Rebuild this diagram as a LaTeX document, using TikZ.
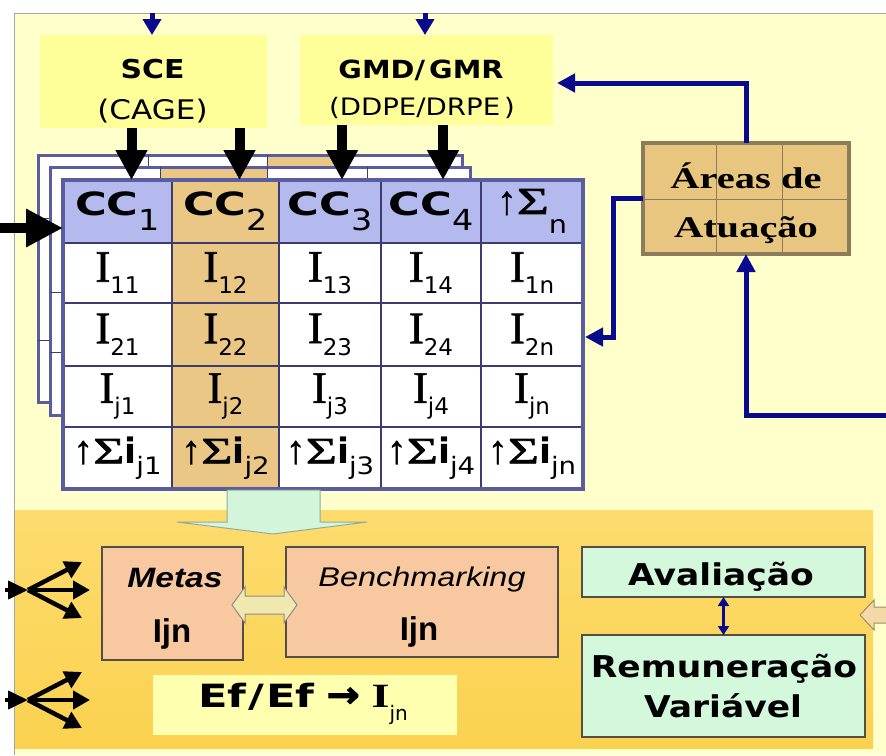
\documentclass[tikz,border=0pt]{standalone}
\usepackage{fontspec}
\setmainfont{DejaVu Sans}
\newfontfamily\sw[FakeStretch=1.15]{DejaVu Sans}
\newfontfamily\sww[FakeStretch=1.35]{DejaVu Sans}
\newfontfamily\arrf[FakeStretch=1.1,FakeBold=2.5]{DejaVu Sans}
\newfontfamily\tmn[FakeBold=1.2]{Liberation Serif}
\newfontfamily\tmw[FakeStretch=1.35]{Liberation Serif}
\newfontfamily\sig[FakeStretch=1.45,FakeBold=2]{Liberation Serif}
\newfontfamily\upa[FakeBold=1]{Liberation Serif}
\newfontfamily\ar{Liberation Sans}
\newfontfamily\arw[FakeStretch=1.2]{Liberation Sans}
\usetikzlibrary{arrows.meta}
\newcommand\fs[1]{\fontsize{#1}{#1}\selectfont}
\definecolor{bgpale}{RGB}{255,255,204}
\definecolor{bright}{RGB}{255,255,153}
\definecolor{hdr}{RGB}{180,185,238}
\definecolor{tanc}{RGB}{234,199,132}
\definecolor{tborder}{RGB}{90,92,160}
\definecolor{tline}{RGB}{60,60,110}
\definecolor{navy}{RGB}{10,10,140}
\definecolor{goldA}{RGB}{253,220,110}
\definecolor{goldB}{RGB}{251,210,80}
\definecolor{salmon}{RGB}{248,200,160}
\definecolor{mint}{RGB}{212,248,220}
\definecolor{efy}{RGB}{255,255,176}
\definecolor{areaf}{RGB}{232,198,128}
\definecolor{areab}{RGB}{140,124,92}
\definecolor{boxb}{RGB}{85,78,70}
\definecolor{garrow}{RGB}{211,245,218}
\definecolor{garrowb}{RGB}{150,170,155}
\definecolor{dblf}{RGB}{240,232,175}
\definecolor{rarf}{RGB}{243,217,166}
\definecolor{rarb}{RGB}{160,140,105}
\newcommand\tcell[7]{\node[tcellst, fill=#6, minimum width={(#4)-(#2)}, minimum height={(#5)-(#3)}] (#1) at ({((#2)+(#4))/2},{((#3)+(#5))/2}) {#7};}
\newcommand\CCx[1]{{\sww\bfseries\fs{32}CC}\raisebox{-15pt}{\sw\fs{29}#1}}
\newcommand\IIx[1]{{\tmn\fs{45}I}\raisebox{-12pt}{\fs{23}#1}}
\newcommand\SIn{{\upa\fs{40}↑}{\sig\fs{38}Σ}\raisebox{-20pt}{\sw\fs{25}n}}
\newcommand\SIx[1]{{\upa\fs{40}↑}{\sig\fs{37}Σ}{\bfseries\fs{35}i}\raisebox{-11pt}{\sw\fs{24}#1}}
\begin{document}
\begin{tikzpicture}[x=1pt,y=-1pt,
  tcellst/.style={draw=tline, line width=1.2pt, inner sep=0pt, outer sep=0pt, text=black},
  ybox/.style={fill=bright, inner sep=0pt, outer sep=0pt},
  salbox/.style={fill=salmon, draw=boxb, line width=1.5pt, inner sep=0pt, outer sep=0pt},
  mintbox/.style={fill=mint, draw=boxb, line width=1.5pt, inner sep=0pt, outer sep=0pt},
  txt/.style={anchor=base, inner sep=0pt},
  blk/.style={draw=black, line width=10pt, -{Triangle[length=30pt,width=30pt]}},
  blu/.style={draw=navy, line width=5pt, -{Triangle[length=18pt,width=18pt]}},
  fan/.style={draw=black, line width=4.5pt, -{Triangle[length=17pt,width=18pt]}},
  fanin/.style={draw=black, line width=4pt, -{Triangle[length=20pt,width=18pt]}},
]
\useasboundingbox (0,0) rectangle (886,755);
\fill[white] (0,0) rectangle (886,755);
\fill[bgpale] (14,13) rectangle (886,755);
\draw[black!35, line width=1pt] (14,755) -- (14,13) -- (886,13);

% top source boxes
\node[ybox, minimum width=227, minimum height=93] (sce) at (153.5,81.5) {};
\node[ybox, minimum width=253, minimum height=90] (gmd) at (426.5,80) {};
\node[txt] (sceT) at (152.5,78) {\sw\bfseries\fs{26}SCE};
\node[txt] (cage) at (152.5,119) {\sw\fs{27}(CAGE)};
\node[txt] (gmdT) at (421,78) {\sw\bfseries\fs{25}GMD/\,GMR};
\node[txt] (ddpe) at (422,115) {\sw\fs{24}(DDPE/DRPE\,)};

% gold region
\shade[top color=goldA, bottom color=goldB] (15,510) rectangle (873,748);

% back layers of the table
\filldraw[fill=white, draw=tborder, line width=3pt] (38,155) rectangle (462,402);
\fill[tanc] (267,156.5) rectangle (338,180);
\draw[tline, line width=1pt] (148,155) -- (148,180) (267,155) -- (267,180) (338,155) -- (338,180)
  (38,218) -- (50,218) (38,340) -- (50,340);
\filldraw[fill=white, draw=tborder, line width=3pt] (50,167) rectangle (470,415);
\fill[tanc] (160,168.5) rectangle (267,180);
\draw[tline, line width=1pt] (160,167) -- (160,180) (267,167) -- (267,180) (367,167) -- (367,180)
  (50,292) -- (63,292) (50,352) -- (63,352);

% main table
\tcell{h1}{63}{180}{172}{243}{hdr}{\CCx{1}}
\tcell{h2}{172}{180}{279}{243}{tanc}{\CCx{2}}
\tcell{h3}{279}{180}{381}{243}{hdr}{\CCx{3}}
\tcell{h4}{381}{180}{481}{243}{hdr}{\CCx{4}}
\tcell{h5}{481}{180}{583}{243}{hdr}{\SIn}
\tcell{a1}{63}{243}{172}{303}{white}{\IIx{11}}
\tcell{a2}{172}{243}{279}{303}{tanc}{\IIx{12}}
\tcell{a3}{279}{243}{381}{303}{white}{\IIx{13}}
\tcell{a4}{381}{243}{481}{303}{white}{\IIx{14}}
\tcell{a5}{481}{243}{583}{303}{white}{\IIx{1n}}
\tcell{b1}{63}{303}{172}{366}{white}{\IIx{21}}
\tcell{b2}{172}{303}{279}{366}{tanc}{\IIx{22}}
\tcell{b3}{279}{303}{381}{366}{white}{\IIx{23}}
\tcell{b4}{381}{303}{481}{366}{white}{\IIx{24}}
\tcell{b5}{481}{303}{583}{366}{white}{\IIx{2n}}
\tcell{c1}{63}{366}{172}{427}{white}{\IIx{j1}}
\tcell{c2}{172}{366}{279}{427}{tanc}{\IIx{j2}}
\tcell{c3}{279}{366}{381}{427}{white}{\IIx{j3}}
\tcell{c4}{381}{366}{481}{427}{white}{\IIx{j4}}
\tcell{c5}{481}{366}{583}{427}{white}{\IIx{jn}}
\tcell{s1}{63}{427}{172}{489}{white}{\SIx{j1}}
\tcell{s2}{172}{427}{279}{489}{tanc}{\SIx{j2}}
\tcell{s3}{279}{427}{381}{489}{white}{\SIx{j3}}
\tcell{s4}{381}{427}{481}{489}{white}{\SIx{j4}}
\tcell{s5}{481}{427}{583}{489}{white}{\SIx{jn}}
\draw[tborder, line width=3.5pt] (h1.north west) rectangle (s5.south east);

% green block arrow
\filldraw[fill=garrow, draw=garrowb, line width=1pt] (227,490) -- (320,490) -- (320,522) -- (367,522) -- (273,534) -- (177,522) -- (227,522) -- cycle;

% bottom boxes
\node[salbox, minimum width=141, minimum height=113] (metas) at (172.5,603.5) {};
\node[salbox, minimum width=272, minimum height=110] (bench) at (422,602) {};
\node[fill=efy, inner sep=0pt, minimum width=304, minimum height=60] (ef) at (305,705) {};
\node[mintbox, minimum width=283, minimum height=50] (aval) at (723.5,572) {};
\node[mintbox, minimum width=283, minimum height=102] (rem) at (723.5,686) {};

\node[txt] (metasT) at (175,587) {\arw\bfseries\itshape\fs{28}Metas};
\node[txt] (ijn1) at (172,642) {\ar\bfseries\fs{33}Ijn};
\node[txt] (benchT) at (422,586) {\arw\itshape\fs{27}Benchmarking};
\node[txt] (ijn2) at (419,640) {\ar\bfseries\fs{33}Ijn};
\node[txt] (efT) at (303,707) {{\sww\bfseries\fs{32}Ef\kern2pt/\kern2pt Ef}\hspace{12pt}{\arrf\bfseries\fs{36}→}\hspace{12pt}{\tmw\bfseries\fs{34}I}\raisebox{-13pt}{\fs{20}jn}};
\node[txt] (avT) at (721,585) {\sw\bfseries\fs{30}Avaliação};
\node[txt] (remT) at (724,677) {\sw\bfseries\fs{30}Remuneração};
\node[txt] (varT) at (723,717) {\sw\bfseries\fs{30}Variável};

% double arrow Metas <-> Benchmarking
\filldraw[fill=dblf, draw=black!45, line width=1pt] (232,605) -- (245,587) -- (245,596) -- (284,596) -- (284,587) -- (297,605) -- (284,623) -- (284,614) -- (245,614) -- (245,623) -- cycle;
% right hollow arrow
\filldraw[fill=rarf, draw=rarb, line width=1pt] (860,615) -- (874,600) -- (874,607) -- (890,607) -- (890,623) -- (874,623) -- (874,630) -- cycle;
% Avaliacao <-> Remuneracao
\draw[draw=navy, line width=3.5pt, {Triangle[length=9pt,width=11pt]}-{Triangle[length=9pt,width=11pt]}] (aval.south) -- (rem.north);

% Areas de Atuacao
\node[fill=areaf, draw=areab, line width=3.5pt, inner sep=0pt, outer sep=0pt, minimum width=206, minimum height=111] (areas) at (746,198.5) {};
\draw[areab, line width=1pt] (716,143) -- (716,254) (782,143) -- (782,254) (643,199) -- (849,199);
\node[txt] (ar1) at (746,188) {\tmw\bfseries\fs{30}Áreas de};
\node[txt] (ar2) at (746,237) {\tmw\bfseries\fs{30}Atuação};

% blue connectors
\draw[blu] (areas.north) |- ([yshift=-3pt,xshift=4pt]gmd.east);
\draw[blu] (areas.west) -- ++(-30,0) |- ([xshift=2pt,yshift=-2.5pt]b5.east);
\coordinate (rin) at (890,415);
\draw[blu] (rin) -| (areas.south);
\coordinate (tb1) at (152,13);
\coordinate (tb2) at (425,13);
\draw[draw=navy, line width=5pt, -{Triangle[length=16pt,width=18pt]}] (tb1) -- (sce.north -| tb1);
\draw[draw=navy, line width=5pt, -{Triangle[length=16pt,width=18pt]}] (tb2) -- (gmd.north -| tb2);

% black arrows into the table
\coordinate (t1) at ([xshift=14pt]h1.north);
\coordinate (t2) at ([xshift=14pt]h2.north);
\coordinate (t3) at ([xshift=12pt]h3.north);
\coordinate (t4) at ([xshift=12pt]h4.north);
\draw[blk] (t1 |- sce.south) -- (t1);
\draw[blk] (t2 |- sce.south) -- (t2);
\draw[blk] (t3 |- gmd.south) -- (t3);
\draw[blk] (t4 |- gmd.south) -- (t4);
\coordinate (lin) at (0,228);
\draw[draw=black, line width=10pt, -{Triangle[length=37pt,width=36pt]}] (lin) -- (h1.west |- lin);

% fan arrows on the left
\coordinate (f1in) at (5,590);
\coordinate (f1) at (28,590);
\coordinate (f1a) at (82,562);
\coordinate (f1b) at (90,590);
\coordinate (f1c) at (82,618);
\draw[fanin] (f1in) -- (f1);
\draw[fan] (f1) -- (f1a);
\draw[fan] (f1) -- (f1b);
\draw[fan] (f1) -- (f1c);
\coordinate (f2in) at (5,700);
\coordinate (f2) at (28,700);
\coordinate (f2a) at (82,672);
\coordinate (f2b) at (90,700);
\coordinate (f2c) at (82,728);
\draw[fanin] (f2in) -- (f2);
\draw[fan] (f2) -- (f2a);
\draw[fan] (f2) -- (f2b);
\draw[fan] (f2) -- (f2c);
\end{tikzpicture}
\end{document}
